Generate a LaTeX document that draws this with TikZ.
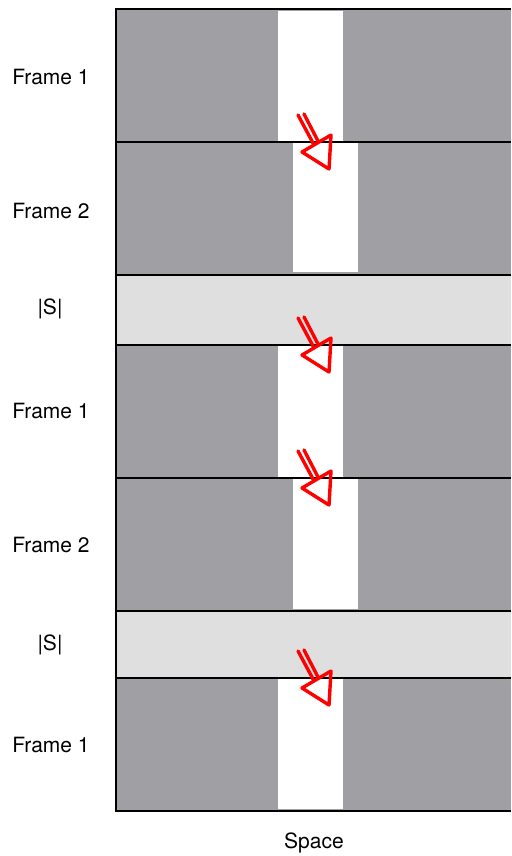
\documentclass[tikz,border=0pt]{standalone}
\usepackage{fontspec}
\setmainfont{TeX Gyre Heros}
\begin{document}
\begin{tikzpicture}[x=1pt,y=-1pt,
  lbl/.style={font=\fontsize{21}{25}\selectfont, anchor=center, inner sep=0pt},
  sep/.style={draw=black, line width=2pt},
  redline/.style={draw=red, line width=3.4pt, line join=round, line cap=round}]
\definecolor{darkg}{RGB}{160,159,164}
\definecolor{lightg}{RGB}{223,223,223}
\useasboundingbox (0,0) rectangle (511,856);
% panels
\fill[darkg] (116,9) rectangle (511,275);
\fill[lightg] (116,275) rectangle (511,345);
\fill[darkg] (116,345) rectangle (511,611);
\fill[lightg] (116,611) rectangle (511,678);
\fill[darkg] (116,678) rectangle (511,811);
% white strips
\fill[white] (278,11) rectangle (343,141);
\fill[white] (293,143) rectangle (358,272);
\fill[white] (278,346) rectangle (343,477);
\fill[white] (293,479) rectangle (358,609);
\fill[white] (278,679) rectangle (343,809);
% separator lines
\foreach \b in {142,275,345,478,611,678}{
  \draw[sep] (116,\b) -- (511,\b);
}
\draw[sep] (116,9) -- (511,9);
\draw[black, line width=2.5pt] (116,811) -- (511,811);
\draw[sep] (116,8) -- (116,812);
% red arrows
\foreach \b in {142,345,478,678}{
  \draw[redline] (298,\b-27) -- (313,\b+1);
  \draw[redline] (304,\b-28) -- (318,\b-1);
  \draw[redline] (302,\b+10) -- (331,\b-7) -- (329,\b+27) -- cycle;
}
% labels
\node[lbl] (f1a) at (51,77) {Frame 1};
\node[lbl] (f2a) at (51,211) {Frame 2};
\node[lbl] (s1) at (50,309) {|S|};
\node[lbl] (f1b) at (51,411) {Frame 1};
\node[lbl] (f2b) at (51,545) {Frame 2};
\node[lbl] (s2) at (50,645) {|S|};
\node[lbl] (f1c) at (51,745) {Frame 1};
\node[lbl] (space) at (314,843) {Space};
\end{tikzpicture}
\end{document}
